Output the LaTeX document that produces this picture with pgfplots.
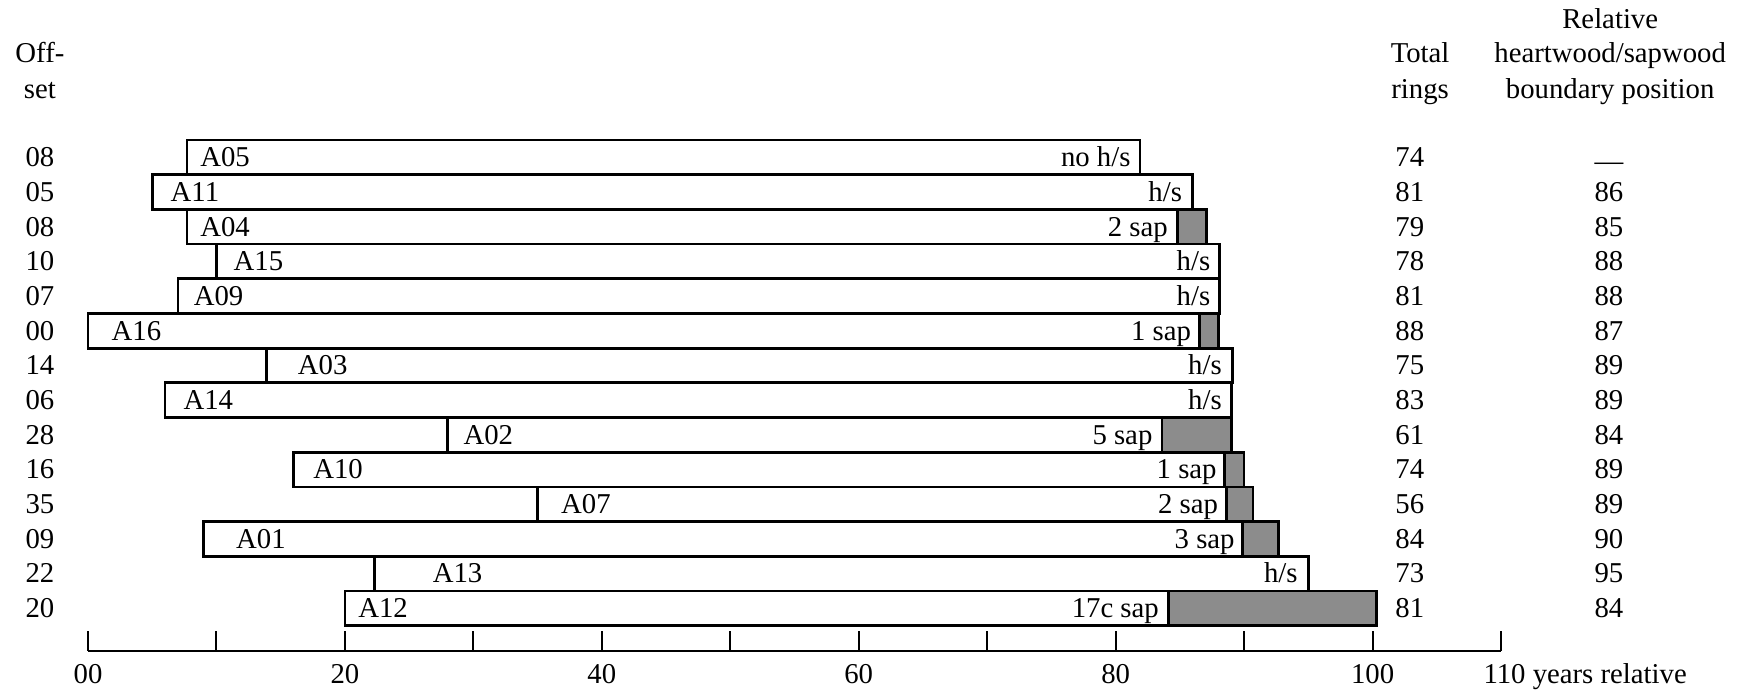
\documentclass[border=0pt]{standalone}
\usepackage{fontspec}
\setmainfont{Liberation Serif}
\usepackage{pgfplots}
\usepackage{pgfplotstable}
\pgfplotsset{compat=1.18}
\definecolor{sapgray}{RGB}{140,140,140}

% y = row centre, start = first ring, bound = heartwood/sapwood boundary, end = last ring
\pgfplotstableread{
y    start bound end
13.5 7.7   81.9  81.9
12.5 5.0   86.0  86.0
11.5 7.7   84.8  87.1
10.5 10.0  88.1  88.1
9.5  7.0   88.1  88.1
8.5  0.0   86.5  88.0
7.5  13.9  89.1  89.1
6.5  6.0   89.0  89.0
5.5  28.0  83.6  89.0
4.5  16.0  88.5  90.0
3.5  35.0  88.6  90.7
2.5  9.0   89.9  92.7
1.5  22.3  95.0  95.0
0.5  20.0  84.1  100.3
}\samples

\pgfplotsset{myframe/.style={
  at={(35.2pt,16.8pt)}, anchor=south west,
  scale only axis, width=565.2pt, height=204.4pt,
  xmin=0, xmax=110, ymin=-0.73, ymax=14, clip=false}}

\begin{document}
\fontsize{11.5}{13.8}\selectfont
\begin{tikzpicture}
\useasboundingbox (0,0) rectangle (697.6pt,277.2pt);
\begin{axis}[
  myframe,
  axis x line=bottom, axis y line=none,
  x axis line style={-, line width=0.8pt},
  xtick={0,10,...,110},
  xticklabels={00,,20,,40,,60,,80,,100,},
  tick align=inside, major tick length=8pt,
  tick style={black, line width=0.8pt},
  xticklabel style={anchor=base, yshift=-13pt},
  /pgf/number format/assume math mode=true,
  xbar stacked, bar width=1,
]
\addplot[draw=none, fill=none] table[x=start, y=y] {\samples};
\addplot[draw=black, line width=1.1pt, fill=white] table[x expr=\thisrow{bound}-\thisrow{start}, y=y] {\samples};
\addplot[draw=black, line width=1.1pt, fill=sapgray] table[x expr=\thisrow{end}-\thisrow{bound}, y=y] {\samples};
\end{axis}

\begin{axis}[myframe, hide axis]
% sample names
\foreach \yy/\xx/\t in {13.5/8.7/A05, 12.5/6.4/A11, 11.5/8.7/A04, 10.5/11.3/A15, 9.5/8.2/A09, 8.5/1.8/A16, 7.5/16.3/A03, 6.5/7.4/A14, 5.5/29.2/A02, 4.5/17.5/A10, 3.5/36.8/A07, 2.5/11.5/A01, 1.5/26.8/A13, 0.5/21.0/A12}
  {\edef\tmp{\noexpand\node[anchor=base west, inner sep=0pt] at (axis cs:\xx,\yy-0.27) {\t};}\tmp}

% right-hand notes
\foreach \yy/\xx/\t in {13.5/81.2/{no h\slash s}, 12.5/85.2/{h\slash s}, 11.5/84.1/{2 sap}, 10.5/87.4/{h\slash s}, 9.5/87.4/{h\slash s}, 8.5/85.9/{1 sap}, 7.5/88.3/{h\slash s}, 6.5/88.3/{h\slash s}, 5.5/82.9/{5 sap}, 4.5/87.9/{1 sap}, 3.5/88.0/{2 sap}, 2.5/89.3/{3 sap}, 1.5/94.2/{h\slash s}, 0.5/83.4/{17c sap}}
  {\edef\tmp{\noexpand\node[anchor=base east, inner sep=0pt] at (axis cs:\xx,\yy-0.27) {\unexpanded\expandafter{\t}};}\tmp}

% offset column
\node[anchor=base] at (axis cs:-3.74,16.50-0.27) {Off-};
\node[anchor=base] at (axis cs:-3.74,15.47-0.27) {set};
\foreach \yy/\t in {13.5/08, 12.5/05, 11.5/08, 10.5/10, 9.5/07, 8.5/00, 7.5/14, 6.5/06, 5.5/28, 4.5/16, 3.5/35, 2.5/09, 1.5/22, 0.5/20}
  {\edef\tmp{\noexpand\node[anchor=base] at (axis cs:-3.74,\yy-0.27) {\t};}\tmp}

% total rings column
\node[anchor=base] at (axis cs:103.7,16.50-0.27) {Total};
\node[anchor=base] at (axis cs:103.7,15.47-0.27) {rings};
\foreach \yy/\t in {13.5/74, 12.5/81, 11.5/79, 10.5/78, 9.5/81, 8.5/88, 7.5/75, 6.5/83, 5.5/61, 4.5/74, 3.5/56, 2.5/84, 1.5/73, 0.5/81}
  {\edef\tmp{\noexpand\node[anchor=base] at (axis cs:102.9,\yy-0.27) {\t};}\tmp}

% boundary position column
\node[anchor=base] at (axis cs:118.5,17.48-0.27) {Relative};
\node[anchor=base] at (axis cs:118.5,16.50-0.27) {heartwood/sapwood};
\node[anchor=base] at (axis cs:118.5,15.47-0.27) {boundary position};
\node[anchor=base] at (axis cs:118.4,13.5-0.39) {---};
\foreach \yy/\t in {12.5/86, 11.5/85, 10.5/88, 9.5/88, 8.5/87, 7.5/89, 6.5/89, 5.5/84, 4.5/89, 3.5/89, 2.5/90, 1.5/95, 0.5/84}
  {\edef\tmp{\noexpand\node[anchor=base] at (axis cs:118.4,\yy-0.27) {\t};}\tmp}

\node[anchor=base west, inner sep=0pt] at (axis cs:108.6,-0.73) [yshift=-13pt] {110 years relative};
\end{axis}
\end{tikzpicture}
\end{document}
